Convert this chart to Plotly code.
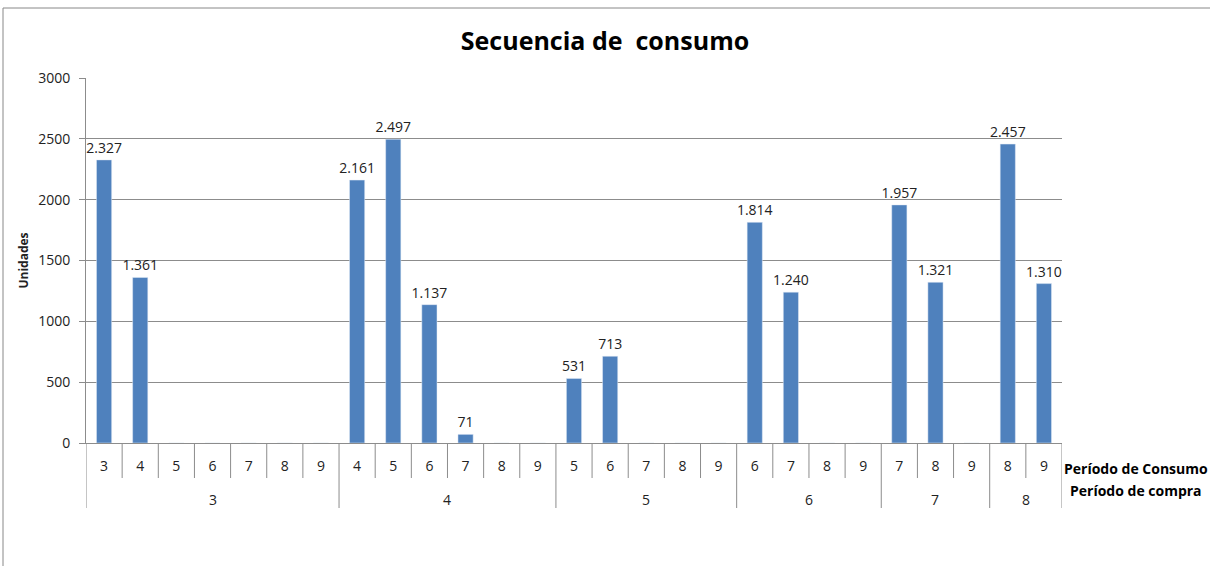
import plotly.graph_objects as go

compra = ["3"] * 7 + ["4"] * 6 + ["5"] * 5 + ["6"] * 4 + ["7"] * 3 + ["8"] * 2
consumo = ["3", "4", "5", "6", "7", "8", "9",
           "4", "5", "6", "7", "8", "9",
           "5", "6", "7", "8", "9",
           "6", "7", "8", "9",
           "7", "8", "9",
           "8", "9"]
unidades = [2327, 1361, 0, 0, 0, 0, 0,
            2161, 2497, 1137, 71, 0, 0,
            531, 713, 0, 0, 0,
            1814, 1240, 0, 0,
            1957, 1321, 0,
            2457, 1310]

labels = [f"{v:,}".replace(",", ".") if v else "" for v in unidades]
pos = list(range(len(unidades)))

W, H = 1210, 566
L, R, T, B = 86, 1062, 78, 443
PH = B - T
AX = "#8c8c8c"

fig = go.Figure(go.Bar(
    x=pos, y=unidades,
    text=labels, textposition="outside", constraintext="none",
    textfont=dict(family="Open Sans", size=14, color="#222"),
    cliponaxis=False,
    marker=dict(color="#4F81BD"),
))

fig.update_layout(
    width=W, height=H,
    margin=dict(l=L, r=W - R, t=T, b=H - B, autoexpand=False),
    paper_bgcolor="white", plot_bgcolor="white",
    bargap=0.58, showlegend=False,
    title=dict(text="<b>Secuencia de  consumo</b>", x=0.5, xanchor="center",
               y=1 - 41 / H, yanchor="middle",
               font=dict(family="Open Sans", size=25, color="black")),
    font=dict(family="Open Sans", size=14, color="#222"),
)
fig.update_yaxes(range=[0, 3000], dtick=500, showgrid=True, gridcolor=AX,
                 gridwidth=1, zeroline=False, showline=True, linecolor=AX,
                 ticks="outside", ticklen=6, tickcolor=AX,
                 ticklabelstandoff=6,
                 tickfont=dict(size=14), automargin=False,
                 title=dict(text="<b>Unidades</b>", font=dict(size=12), standoff=6))
fig.update_xaxes(range=[-0.5, len(pos) - 0.5], tickmode="array",
                 tickvals=pos, ticktext=consumo, ticks="",
                 showline=True, linecolor=AX, showgrid=False, zeroline=False,
                 ticklabelstandoff=10, automargin=False,
                 tickfont=dict(size=14))

# category boundary ticks and group dividers
groups = []
for i, g in enumerate(compra):
    if not groups or groups[-1][0] != g:
        groups.append([g, i, i])
    else:
        groups[-1][2] = i
group_starts = {s for _, s, _ in groups}
for k in range(len(pos) + 1):
    is_div = k in group_starts or k == len(pos)
    depth = (508 - B) if is_div else (478 - B)
    fig.add_shape(type="line", xref="x", yref="paper",
                  x0=k - 0.5, x1=k - 0.5, y0=0, y1=-depth / PH,
                  line=dict(color=AX, width=1))
for g, s, e in groups:
    fig.add_annotation(text=g, xref="x", yref="paper", x=(s + e) / 2,
                       y=-(499 - B) / PH, yanchor="middle", showarrow=False,
                       font=dict(size=14, color="#222"))

fig.add_annotation(text="<b>Período de Consumo</b>", xref="paper", yref="paper",
                   x=1.0, y=-(468 - B) / PH, xanchor="left", yanchor="middle",
                   showarrow=False, font=dict(size=14, color="black"))
fig.add_annotation(text="<b>Período de compra</b>", xref="paper", yref="paper",
                   x=1.006, y=-(491 - B) / PH, xanchor="left", yanchor="middle",
                   showarrow=False, font=dict(size=14, color="black"))

# chart border (top and left)
fig.add_shape(type="line", xref="paper", yref="paper",
              x0=(3 - L) / (R - L), x1=(W - L) / (R - L),
              y0=(B - 8) / PH, y1=(B - 8) / PH,
              line=dict(color="#888", width=1))
fig.add_shape(type="line", xref="paper", yref="paper",
              x0=(3 - L) / (R - L), x1=(3 - L) / (R - L),
              y0=(B - 8) / PH, y1=(B - H) / PH,
              line=dict(color="#888", width=1))

fig.write_html("out.html", config={"displayModeBar": False},
               post_script="document.body.style.margin='0';")
